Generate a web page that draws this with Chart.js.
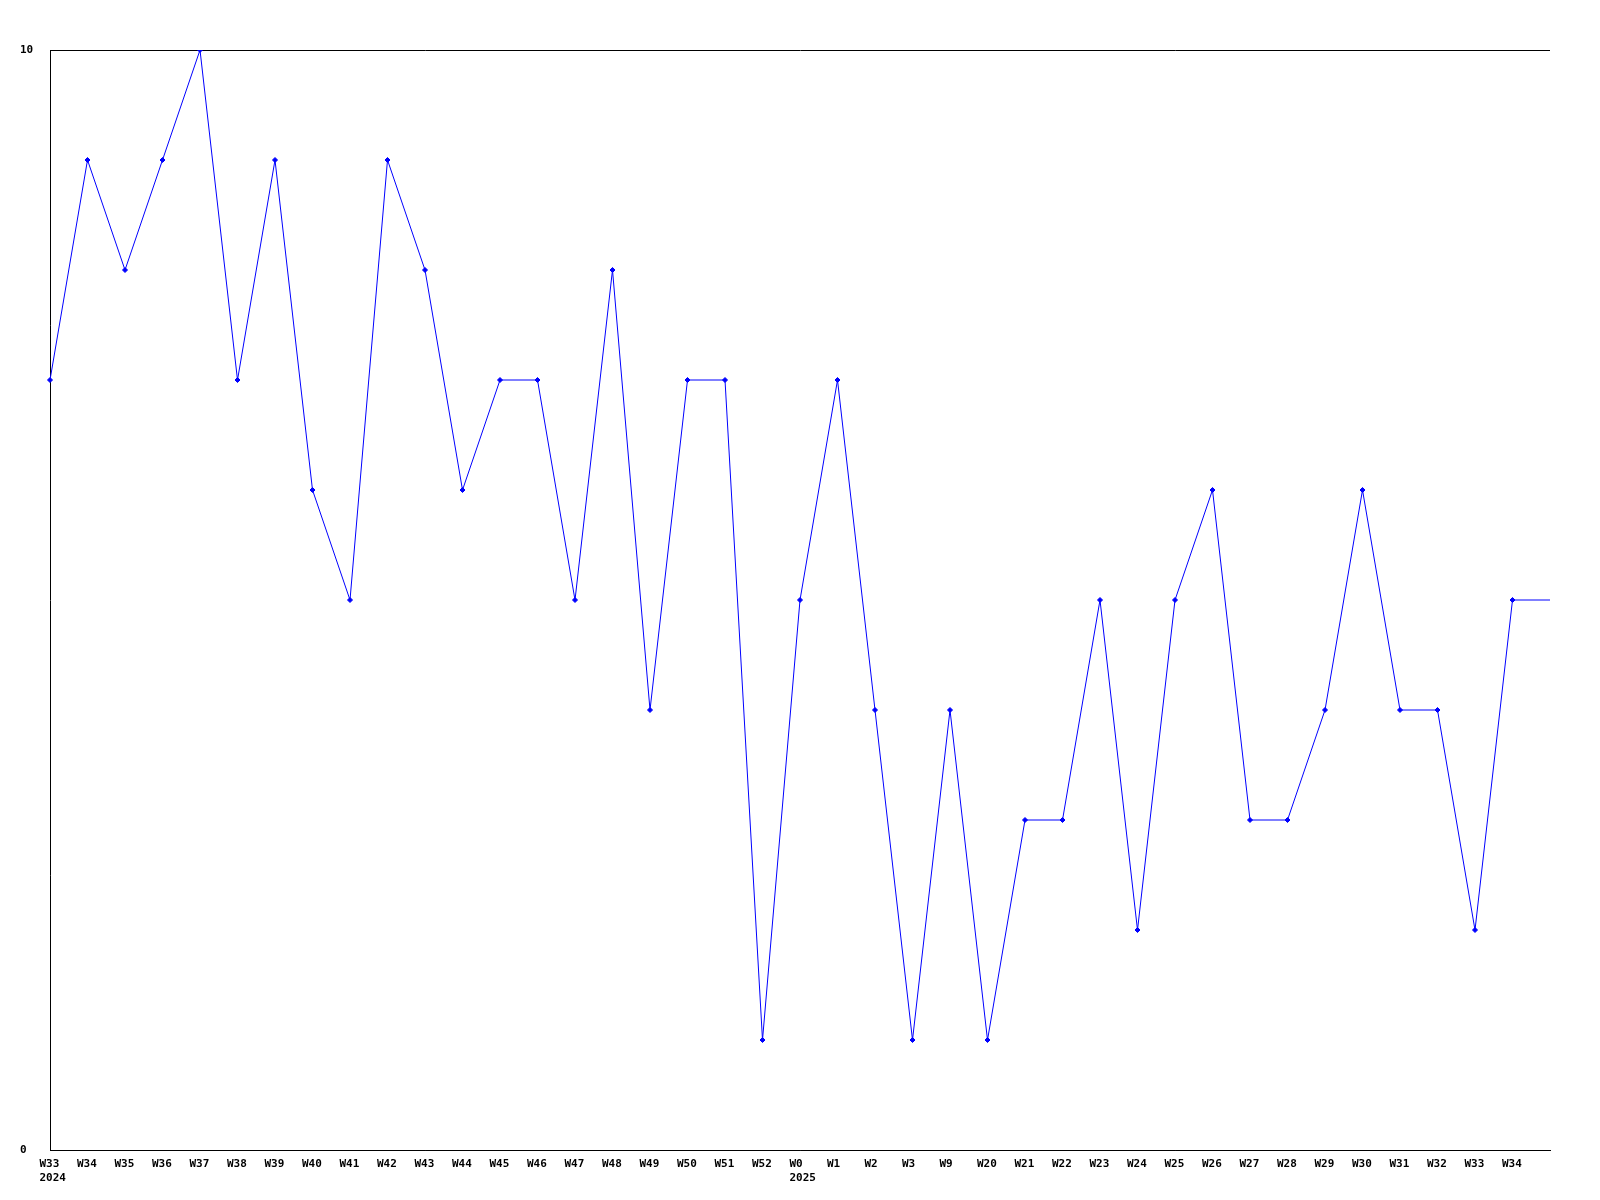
<!DOCTYPE html>
<html>
<head>
<meta charset="utf-8">
<script src="https://cdn.jsdelivr.net/npm/chart.js@4/dist/chart.umd.min.js"></script>
<style>
    body { margin: 0; background: #fff; }
    #wrap { width: 1600px; height: 1200px; }
</style>
</head>
<body>
<div id="wrap"><canvas id="chart" width="1600" height="1200"></canvas></div>
<script>
// Week labels along the x axis (last slot has no label, the line just runs on)
const weekLabels = ['W33', 'W34', 'W35', 'W36', 'W37', 'W38', 'W39', 'W40', 'W41', 'W42',
    'W43', 'W44', 'W45', 'W46', 'W47', 'W48', 'W49', 'W50', 'W51', 'W52',
    'W0', 'W1', 'W2', 'W3', 'W9', 'W20', 'W21', 'W22', 'W23', 'W24',
    'W25', 'W26', 'W27', 'W28', 'W29', 'W30', 'W31', 'W32', 'W33', 'W34', ''];

// Values per week
const weekValues = [7, 9, 8, 9, 10, 7, 9, 6, 5, 9,
    8, 6, 7, 7, 5, 8, 4, 7, 7, 1,
    5, 7, 4, 1, 4, 1, 3, 3, 5, 2,
    5, 6, 3, 3, 4, 6, 4, 4, 2, 5, 5];

// Year labels, placed under the week where the year starts
const yearTickIndex = [0, 20];
const yearTickText = ['2024', '2025'];

const yTicks = [0, 10];

const labelFont = 'bold 11px "DejaVu Sans Mono", monospace';

// Draw the week / year labels left-aligned a little before each point
const weekLabelPlugin = {
    id: 'weekLabels',
    afterDraw(chart) {
        const ctx = chart.ctx;
        const xScale = chart.scales.x;
        ctx.save();
        ctx.font = labelFont;
        ctx.fillStyle = '#000';
        ctx.textAlign = 'left';
        ctx.textBaseline = 'alphabetic';
        weekLabels.forEach((label, i) => {
            if (!label) return;
            const x = xScale.getPixelForValue(i);
            ctx.fillText(label, x - 10.5, 1167);
        });
        yearTickIndex.forEach((idx, k) => {
            const x = xScale.getPixelForValue(idx);
            ctx.fillText(yearTickText[k], x - 10.5, 1181);
        });
        ctx.restore();
    }
};

const lastIndex = weekValues.length - 1;

new Chart(document.getElementById('chart'), {
    type: 'line',
    data: {
        labels: weekLabels,
        datasets: [{
            data: weekValues,
            borderColor: '#0000ff',
            backgroundColor: '#0000ff',
            borderWidth: 1,
            tension: 0,
            fill: false,
            pointStyle: 'rectRot',
            pointRadius: ctx => ctx.dataIndex === lastIndex ? 0 : 2.5,
            pointBorderWidth: 1
        }]
    },
    options: {
        responsive: false,
        animation: false,
        layout: {
            padding: { left: 20, right: 50, top: 50, bottom: 0 }
        },
        plugins: {
            legend: { display: false },
            tooltip: { enabled: false }
        },
        scales: {
            x: {
                offset: false,
                grid: { display: false },
                border: { display: true, color: '#000', width: 1 },
                ticks: { display: false },
                afterFit: scale => { scale.height = 50; }
            },
            y: {
                min: 0,
                max: 10,
                afterBuildTicks: scale => {
                    scale.ticks = yTicks.map(v => ({ value: v }));
                },
                grid: { color: '#000', lineWidth: 1, drawTicks: false },
                border: { display: true, color: '#000', width: 1 },
                ticks: {
                    color: '#000',
                    font: { family: '"DejaVu Sans Mono", monospace', size: 11, weight: 'bold' },
                    crossAlign: 'far',
                    padding: 4
                },
                afterFit: scale => { scale.width = 30; }
            }
        }
    },
    plugins: [weekLabelPlugin]
});
</script>
</body>
</html>
